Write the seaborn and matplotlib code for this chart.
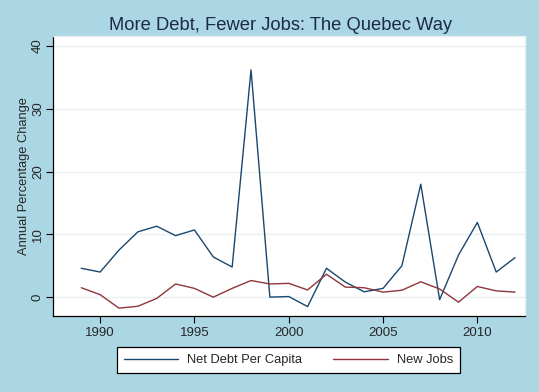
import numpy as np
import pandas as pd
import matplotlib
matplotlib.use("Agg")
import matplotlib.pyplot as plt
import seaborn as sns
from matplotlib.lines import Line2D

years = list(range(1989, 2013))
net_debt = [4.6, 4.0, 7.5, 10.4, 11.3, 9.8, 10.7, 6.4, 4.8, 36.2, 0.0, 0.1,
            -1.5, 4.6, 2.4, 0.85, 1.4, 5.0, 18.0, -0.4, 6.7, 11.9, 4.0, 6.3]
new_jobs = [1.5, 0.4, -1.75, -1.45, -0.2, 2.1, 1.4, 0.0, 1.4, 2.65, 2.1, 2.2,
            1.15, 3.65, 1.6, 1.5, 0.8, 1.1, 2.45, 1.3, -0.8, 1.7, 1.0, 0.8]
series_names = ["Net Debt Per Capita", "New Jobs"]
x_ticks = [1990, 1995, 2000, 2005, 2010]
y_ticks = [0, 10, 20, 30, 40]
title = "More Debt, Fewer Jobs: The Quebec Way"
y_label = "Annual Percentage Change"

df = pd.DataFrame({
    "year": years * 2,
    "value": net_debt + new_jobs,
    "series": [series_names[0]] * len(years) + [series_names[1]] * len(years),
})

sns.set_theme(style="white")
plt.rcParams["font.family"] = ["Liberation Sans", "DejaVu Sans"]

bg = "#ABD7E4"
fig = plt.figure(figsize=(5.39, 3.92), dpi=100, facecolor=bg)
ax = fig.add_axes([0.0983, 0.1939, 0.9731 - 0.0983, 0.9082 - 0.1939])
ax.set_facecolor("white")

palette = {series_names[0]: "#1a476f", series_names[1]: "#90353b"}
sns.lineplot(data=df, x="year", y="value", hue="series", palette=palette,
             linewidth=1.0, ax=ax, legend=False)

ax.set_xlim(1987.5, 2012.5)
ax.set_ylim(-3.0, 41.6)
ax.set_xticks(x_ticks)
ax.set_yticks(y_ticks)
ax.set_xticklabels([str(t) for t in x_ticks], fontsize=9.5)
ax.set_yticklabels([str(t) for t in y_ticks], fontsize=9.5, rotation=90, va="center")
ax.yaxis.grid(True, color="#E8F0F2", linewidth=1.0)
ax.xaxis.grid(False)
ax.set_axisbelow(True)
ax.tick_params(axis="both", direction="out", length=5, width=0.8, color="black",
               left=True, bottom=True)
ax.tick_params(axis="y", pad=1.5)
ax.tick_params(axis="x", pad=3)
for s in ["top", "right"]:
    ax.spines[s].set_color("#E8EEF0")
    ax.spines[s].set_linewidth(1.0)
for s in ["left", "bottom"]:
    ax.spines[s].set_color("black")
    ax.spines[s].set_linewidth(0.9)

ax.set_xlabel("")
ax.set_ylabel(y_label, fontsize=9.3, labelpad=1.5)
fig.text(0.52, 0.935, title, ha="center", va="center", fontsize=13.2, color="#1c2a48")

handles = [Line2D([], [], color=palette[n], linewidth=1.0) for n in series_names]
leg = fig.legend(handles, series_names, loc="center", bbox_to_anchor=(288.5 / 539, 1 - 360 / 392),
                 ncol=2, fontsize=9.3, frameon=True, fancybox=False, framealpha=1.0,
                 handlelength=4.2, handletextpad=0.7, columnspacing=2.4, borderpad=0.55,
                 borderaxespad=0)
leg.get_frame().set_edgecolor("black")
leg.get_frame().set_linewidth(0.9)
leg.get_frame().set_facecolor("white")

fig.savefig("out.png", dpi=100, facecolor=bg)
